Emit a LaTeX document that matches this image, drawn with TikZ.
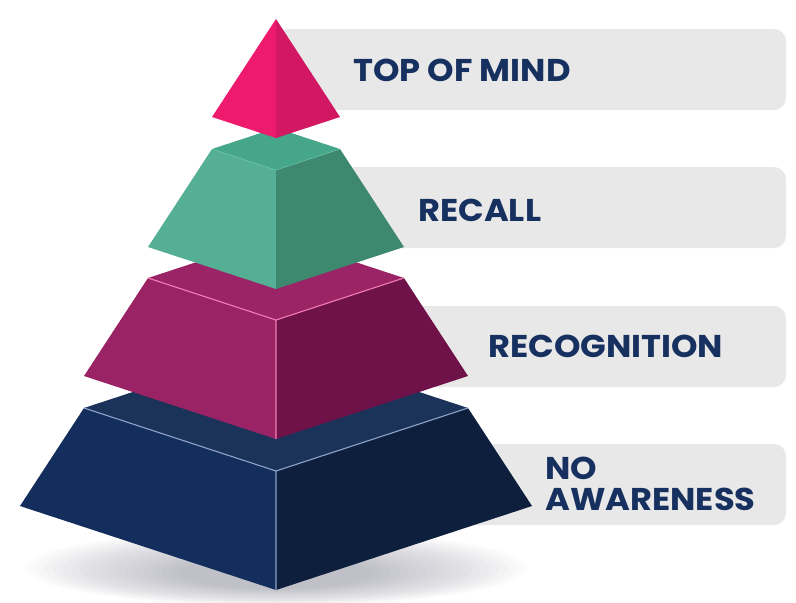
\documentclass[tikz,border=0pt]{standalone}
\usepackage{fontspec}
\newfontfamily\lblfont{Poppins}[FakeStretch=1.07]
\usetikzlibrary{calc}
\definecolor{lbltext}{HTML}{16305F}
\definecolor{boxgray}{HTML}{E8E8E8}
\definecolor{pinkL}{HTML}{EE1A6D}
\definecolor{pinkR}{HTML}{D21863}
\definecolor{greenT}{HTML}{46A68A}
\definecolor{greenL}{HTML}{55AF94}
\definecolor{greenR}{HTML}{3E886F}
\definecolor{greenE}{HTML}{66C2A6}
\definecolor{magT}{HTML}{9A2466}
\definecolor{magL}{HTML}{992365}
\definecolor{magR}{HTML}{6E1249}
\definecolor{magE}{HTML}{F27DB6}
\definecolor{navyT}{HTML}{1B3358}
\definecolor{navyL}{HTML}{132D5C}
\definecolor{navyR}{HTML}{0D1F3C}
\definecolor{navyE}{HTML}{8EA3CA}
\definecolor{shadowc}{HTML}{30304A}
\tikzset{
  lblbox/.style={fill=boxgray, rounded corners=12pt},
  lbl/.style={font=\lblfont\bfseries\fontsize{31.5}{31.5}\selectfont, text=lbltext, anchor=base west, inner sep=0pt},
  edgeline/.style={line width=1.1pt, line join=round}
}
\begin{document}
\begin{tikzpicture}[x=1pt,y=-1pt]
\useasboundingbox (0,0) rectangle (796,603);
% soft shadow under the base
\foreach \i in {0,...,17}{
  \fill[shadowc, opacity=0.018] (276,{568+0.3*\i}) ellipse ({250-9*\i} and {38-1.3*\i});
}
% label boxes
\fill[lblbox] (276,29) rectangle (786,110);
\fill[lblbox] (276,167) rectangle (786,248);
\fill[lblbox] (276,306) rectangle (786,387);
\fill[lblbox] (276,444) rectangle (786,525);
% navy tier
\coordinate (nTL) at (84,408); \coordinate (nTB) at (276,345);
\coordinate (nTR) at (468,408); \coordinate (nTF) at (276,471);
\coordinate (nBL) at (20,506); \coordinate (nBF) at (276,590); \coordinate (nBR) at (532,506);
\fill[navyT] (nTL) -- (nTB) -- (nTR) -- (nTF) -- cycle;
\fill[navyL] (nTL) -- (nTF) -- (nBF) -- (nBL) -- cycle;
\fill[navyR] (nTF) -- (nTR) -- (nBR) -- (nBF) -- cycle;
\draw[navyE, edgeline] (nTL) -- (nTF) -- (nTR) (nTF) -- (nBF);
% magenta tier
\coordinate (mTL) at (148,278); \coordinate (mTB) at (276,236);
\coordinate (mTR) at (404,278); \coordinate (mTF) at (276,320);
\coordinate (mBL) at (84,376); \coordinate (mBF) at (276,439); \coordinate (mBR) at (468,376);
\fill[magT] (mTL) -- (mTB) -- (mTR) -- (mTF) -- cycle;
\fill[magL] (mTL) -- (mTF) -- (mBF) -- (mBL) -- cycle;
\fill[magR] (mTF) -- (mTR) -- (mBR) -- (mBF) -- cycle;
\draw[magE, edgeline] (mTL) -- (mTF) -- (mTR) (mTF) -- (mBF);
% green tier
\coordinate (gTL) at (212,149); \coordinate (gTB) at (276,128);
\coordinate (gTR) at (340,149); \coordinate (gTF) at (276,170);
\coordinate (gBL) at (148,247); \coordinate (gBF) at (276,289); \coordinate (gBR) at (404,247);
\fill[greenT] (gTL) -- (gTB) -- (gTR) -- (gTF) -- cycle;
\fill[greenL] (gTL) -- (gTF) -- (gBF) -- (gBL) -- cycle;
\fill[greenR] (gTF) -- (gTR) -- (gBR) -- (gBF) -- cycle;
\draw[greenE, line width=0.6pt] (gTL) -- (gTF) -- (gTR);
% pink top
\coordinate (pA) at (276,19);
\coordinate (pL) at (212,117); \coordinate (pF) at (276,138); \coordinate (pR) at (340,117);
\fill[pinkL] (pA) -- (pF) -- (pL) -- cycle;
\fill[pinkR] (pA) -- (pR) -- (pF) -- cycle;
% labels
\node[lbl] (t1) at (353,81) {TOP OF MIND};
\node[lbl] (t2) at (418,221) {RECALL};
\node[lbl] (t3) at (488,357) {RECOGNITION};
\node[lbl] (t4a) at (545,479) {NO};
\node[lbl] (t4b) at (545,510) {AWARENESS};
\end{tikzpicture}
\end{document}
